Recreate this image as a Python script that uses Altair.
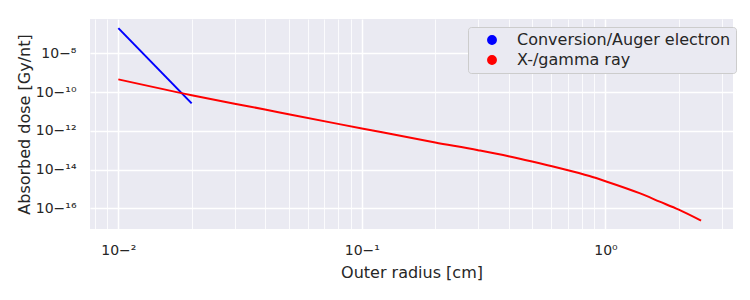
import altair as alt
import pandas as pd

# Conversion/Auger electron series
radius_e = [0.01, 0.02]
dose_e = [2.0e-7, 2.6e-11]

# X-/gamma ray series
radius_g = [0.01, 0.02, 0.03, 0.04, 0.05, 0.1, 0.2, 0.3, 0.4, 0.5, 0.645, 0.86,
            1.0, 1.38, 1.67, 2.0, 2.47]
dose_g = [4.5e-10, 6.9e-11, 2.5e-11, 1.26e-11, 7.1e-12, 1.32e-12, 2.5e-13, 1.0e-13,
          4.9e-14, 2.6e-14, 1.2e-14, 4.6e-15, 2.5e-15, 6.0e-16, 2.2e-16, 8.5e-17,
          2.3e-17]

series_names = ["Conversion/Auger electron", "X-/gamma ray"]
series_colors = ["#0000FF", "#FF0000"]

x_ticks = [0.008, 0.009, 0.01, 0.02, 0.03, 0.04, 0.05, 0.06, 0.07, 0.08, 0.09,
           0.1, 0.2, 0.3, 0.4, 0.5, 0.6, 0.7, 0.8, 0.9, 1, 2, 3]
y_ticks = [1e-8, 1e-10, 1e-12, 1e-14, 1e-16]

df = pd.concat([
    pd.DataFrame({"radius": radius_e, "dose": dose_e, "series": series_names[0]}),
    pd.DataFrame({"radius": radius_g, "dose": dose_g, "series": series_names[1]}),
])

FONT = "DejaVu Sans"
TXT = "#262626"

sup_expr = ("replace(replace(replace(replace(replace(replace(replace(replace(replace(replace(replace("
            "format(round(log(datum.value)/LN10), 'd'),"
            "'-', '⁻'), '0', '⁰'), '1', '¹'), '2', '²'), '3', '³'), '4', '⁴'), '5', '⁵'),"
            "'6', '⁶'), '7', '⁷'), '8', '⁸'), '9', '⁹')")
is_major = "abs(log(datum.value)/LN10 - round(log(datum.value)/LN10)) < 1e-6"

x_enc = alt.X(
    "radius:Q",
    scale=alt.Scale(type="log", domain=[0.00765, 3.34], nice=False),
    axis=alt.Axis(
        title="Outer radius [cm]",
        values=x_ticks,
        labelExpr=f"({is_major}) ? '10' + {sup_expr} : ''",
        gridWidth={"condition": {"test": is_major, "value": 1.5}, "value": 0.8},
        gridColor="#FFFFFF",
        tickSize=0, domain=False, labelPadding=14, titlePadding=7,
        labelFontSize=14, titleFontSize=16, labelFont=FONT, titleFont=FONT,
        labelColor=TXT, titleColor=TXT, titleFontWeight="normal",
        labelFlush=False, labelOverlap=False,
    ),
)
y_enc = alt.Y(
    "dose:Q",
    scale=alt.Scale(type="log", domain=[8.5e-18, 5.9e-7], nice=False),
    axis=alt.Axis(
        title="Absorbed dose [Gy/nt]",
        values=y_ticks,
        labelExpr=f"'10' + {sup_expr}",
        gridWidth=1.5, gridColor="#FFFFFF",
        tickSize=0, domain=False, labelPadding=14, titlePadding=3,
        labelFontSize=14, titleFontSize=16, labelFont=FONT, titleFont=FONT,
        labelColor=TXT, titleColor=TXT, titleFontWeight="normal",
        labelFlush=False, labelOverlap=False,
    ),
)
color_scale = alt.Scale(domain=series_names, range=series_colors)

legend_layer = alt.Chart(df).transform_filter("false").mark_circle(opacity=1).encode(
    x=x_enc, y=y_enc,
    color=alt.Color(
        "series:N", scale=color_scale,
        legend=alt.Legend(
            title=None, orient="none", legendX=378, legendY=8,
            symbolType="circle", symbolSize=70, symbolOffset=11,
            labelOffset=17, rowPadding=4, padding=5, labelLimit=400,
            labelFontSize=16, labelFont=FONT, labelColor=TXT,
            fillColor="#EAEAF2", strokeColor="#CCCCCC", cornerRadius=3,
        ),
    ),
)

lines = alt.Chart(df).mark_line(strokeWidth=2, clip=True, interpolate="monotone").encode(
    x=x_enc, y=y_enc,
    color=alt.Color("series:N", scale=color_scale, legend=None),
    detail="series:N",
)

chart = alt.layer(legend_layer, lines).properties(
    width=643, height=210,
    autosize=alt.AutoSizeParams(type="none"),
    padding={"left": 90, "top": 19, "right": 17, "bottom": 71},
    background="#FFFFFF",
).configure_view(fill="#EAEAF2", stroke=None)

chart.save("out.html", embed_options={"renderer": "svg", "actions": False})
